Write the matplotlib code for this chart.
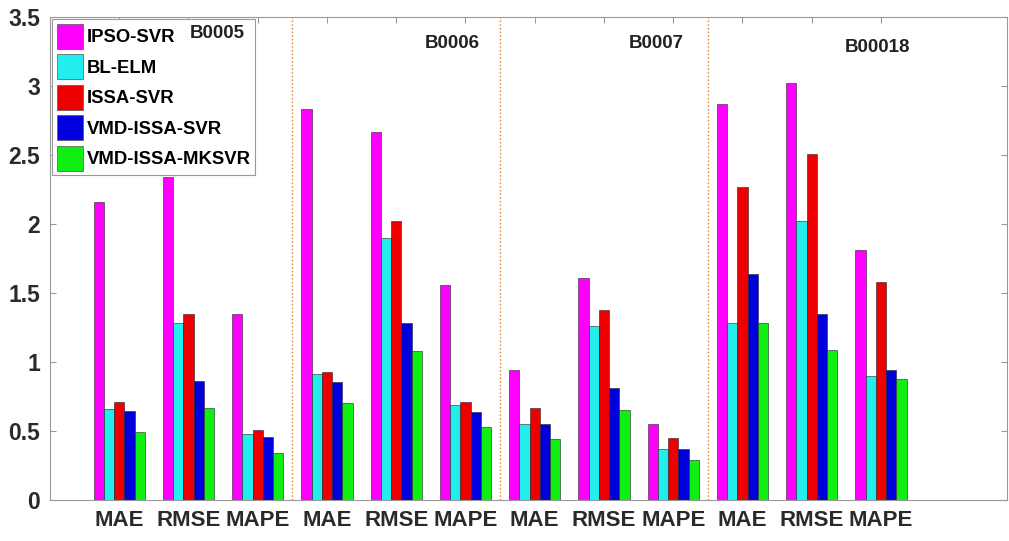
import numpy as np
import matplotlib
matplotlib.use("Agg")
import matplotlib.pyplot as plt
from matplotlib.patches import Patch

plt.rcParams['font.family'] = ['Liberation Sans', 'DejaVu Sans']

metrics = ["MAE", "RMSE", "MAPE"] * 4
batteries = ["B0005", "B0006", "B0007", "B00018"]
models = ["IPSO-SVR", "BL-ELM", "ISSA-SVR", "VMD-ISSA-SVR", "VMD-ISSA-MKSVR"]
colors = ["#FF00FF", "#22EEEE", "#EE0000", "#0000DD", "#11EE11"]

ipso_svr     = [2.16, 2.34, 1.35, 2.83, 2.67, 1.56, 0.94, 1.61, 0.55, 2.87, 3.02, 1.81]
bl_elm       = [0.66, 1.28, 0.48, 0.91, 1.90, 0.69, 0.55, 1.26, 0.37, 1.28, 2.02, 0.90]
issa_svr     = [0.71, 1.35, 0.51, 0.93, 2.02, 0.71, 0.67, 1.38, 0.45, 2.27, 2.51, 1.58]
vmd_issa_svr = [0.645, 0.86, 0.455, 0.855, 1.28, 0.64, 0.55, 0.81, 0.37, 1.64, 1.35, 0.94]
vmd_issa_mk  = [0.49, 0.67, 0.34, 0.70, 1.08, 0.53, 0.44, 0.65, 0.29, 1.28, 1.09, 0.88]

series = [ipso_svr, bl_elm, issa_svr, vmd_issa_svr, vmd_issa_mk]

fig = plt.figure(figsize=(10.09, 5.41), dpi=100)
ax = fig.add_axes([50 / 1009, 41 / 541, 957 / 1009, 483 / 541])

x = np.arange(1, len(metrics) + 1)
bw = 0.148
for k, (vals, col) in enumerate(zip(series, colors)):
    ax.bar(x + (k - 2) * bw, vals, width=bw, color=col, edgecolor="#222222",
           linewidth=0.4, label=models[k], zorder=2)

# separators between batteries
for xs in (3.5, 6.5, 9.5):
    ax.axvline(xs, color="#D9822B", linestyle=":", linewidth=1.0, zorder=1)

# battery labels
label_pos = [(2.42, 3.38), (5.81, 3.31), (8.76, 3.31), (11.95, 3.28)]
for name, (lx, ly) in zip(batteries, label_pos):
    ax.text(lx, ly, name, ha="center", va="center", fontsize=13.5,
            fontweight="bold", color="#222222", zorder=10)

ax.set_xlim(0, 13.82)
ax.set_ylim(0, 3.5)
ax.set_xticks(x)
ax.set_xticklabels(metrics, fontsize=16, fontweight="bold", color="#2a2a2a")
ax.set_yticks(np.arange(0, 3.51, 0.5))
ax.set_yticklabels(["0", "0.5", "1", "1.5", "2", "2.5", "3", "3.5"],
                   fontsize=16.5, fontweight="bold", color="#2a2a2a")
ax.tick_params(direction="in", length=4, color="#999999", top=True, right=True,
               pad=7)
for s in ax.spines.values():
    s.set_color("#999999")
    s.set_linewidth(0.8)

handles = [Patch(facecolor=c, edgecolor="#555555", linewidth=0.5) for c in colors]
leg = ax.legend(handles, models, loc="upper left", bbox_to_anchor=(0, 1),
                borderaxespad=0.12, fancybox=False, framealpha=1,
                edgecolor="#999999", prop={"weight": "bold", "size": 13.3},
                handlelength=1.4, handleheight=1.7, handletextpad=0.2,
                labelspacing=0.3, borderpad=0.25)
leg.get_frame().set_linewidth(0.8)
leg.set_zorder(5)

fig.savefig("out.png", dpi=100)
